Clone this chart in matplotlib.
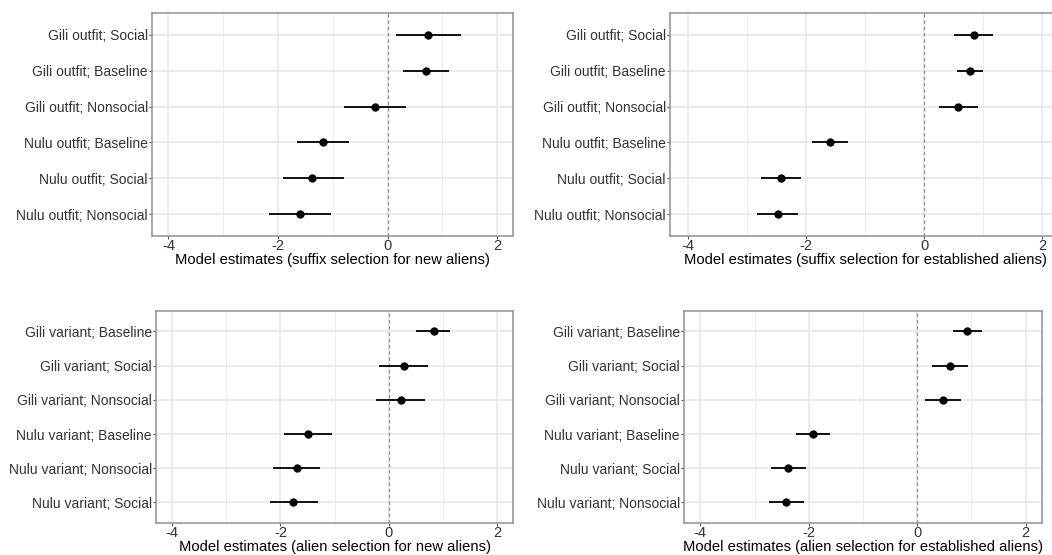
import matplotlib.pyplot as plt
import numpy as np

plt.rcParams['font.family'] = ['Liberation Sans', 'DejaVu Sans']
plt.rcParams['axes.unicode_minus'] = False

# labels top to bottom, with estimate and interval ends
labels_tl = ["Gili outfit; Social", "Gili outfit; Baseline", "Gili outfit; Nonsocial",
             "Nulu outfit; Baseline", "Nulu outfit; Social", "Nulu outfit; Nonsocial"]
est_tl = [0.74, 0.70, -0.23, -1.18, -1.37, -1.60]
low_tl = [0.15, 0.29, -0.79, -1.65, -1.91, -2.16]
high_tl = [1.34, 1.12, 0.34, -0.71, -0.80, -1.04]

labels_tr = ["Gili outfit; Social", "Gili outfit; Baseline", "Gili outfit; Nonsocial",
             "Nulu outfit; Baseline", "Nulu outfit; Social", "Nulu outfit; Nonsocial"]
est_tr = [0.84, 0.77, 0.58, -1.60, -2.43, -2.48]
low_tr = [0.50, 0.55, 0.26, -1.89, -2.76, -2.82]
high_tr = [1.17, 0.99, 0.91, -1.29, -2.09, -2.13]

labels_bl = ["Gili variant; Baseline", "Gili variant; Social", "Gili variant; Nonsocial",
             "Nulu variant; Baseline", "Nulu variant; Nonsocial", "Nulu variant; Social"]
est_bl = [0.83, 0.28, 0.22, -1.49, -1.70, -1.76]
low_bl = [0.51, -0.18, -0.23, -1.93, -2.14, -2.20]
high_bl = [1.14, 0.73, 0.67, -1.05, -1.26, -1.31]

labels_br = ["Gili variant; Baseline", "Gili variant; Social", "Gili variant; Nonsocial",
             "Nulu variant; Baseline", "Nulu variant; Social", "Nulu variant; Nonsocial"]
est_br = [0.92, 0.60, 0.47, -1.92, -2.38, -2.42]
low_br = [0.65, 0.27, 0.15, -2.23, -2.70, -2.74]
high_br = [1.19, 0.93, 0.80, -1.61, -2.06, -2.08]

xlabels = ["Model estimates (suffix selection for new aliens)",
           "Model estimates (suffix selection for established aliens)",
           "Model estimates (alien selection for new aliens)",
           "Model estimates (alien selection for established aliens)"]

fig = plt.figure(figsize=(10.52, 5.55), dpi=100)

# axes boxes [left, bottom, width, height] in figure fractions
boxes = [[0.1445, 0.5748, 0.3436, 0.4018],
         [0.6369, 0.5748, 0.3707, 0.4018],
         [0.1483, 0.0577, 0.3394, 0.3820],
         [0.6502, 0.0577, 0.3403, 0.3820]]

panels = [(labels_tl, est_tl, low_tl, high_tl),
          (labels_tr, est_tr, low_tr, high_tr),
          (labels_bl, est_bl, low_bl, high_bl),
          (labels_br, est_br, low_br, high_br)]

for box, (labs, est, lo, hi), xl in zip(boxes, panels, xlabels):
    ax = fig.add_axes(box)
    y = np.arange(len(labs))[::-1] + 1
    ax.hlines(y, lo, hi, color='black', linewidth=1.3, zorder=3)
    ax.plot(est, y, 'o', color='black', markersize=5, zorder=4)
    ax.axvline(0, color='#999999', linestyle='--', linewidth=1, dashes=(2.5, 2), zorder=2)

    ax.set_xlim(-4.3, 2.3)
    ax.set_ylim(0.4, 6.6)
    ax.set_xticks([-4, -2, 0, 2])
    ax.set_xticks([-3, -1, 1], minor=True)
    ax.set_yticks(y)
    ax.set_yticklabels(labs)
    ax.grid(True, which='major', color='#E6E6E6', linewidth=1.1, zorder=0)
    ax.grid(True, which='minor', axis='x', color='#EDEDED', linewidth=0.7, zorder=0)
    ax.set_axisbelow(True)
    ax.tick_params(axis='both', which='major', labelcolor='#333333',
                   color='#555555', length=2.5, width=0.8, pad=0.5)
    ax.tick_params(axis='y', labelsize=10)
    ax.tick_params(axis='x', labelsize=10.5, length=2, pad=0)
    ax.tick_params(axis='x', which='minor', length=0)
    for s in ax.spines.values():
        s.set_color('#999999')
        s.set_linewidth(1.2)
    ax.set_xlabel(xl, fontsize=10.6, color='black', labelpad=0)

fig.savefig('out.png', dpi=100)
